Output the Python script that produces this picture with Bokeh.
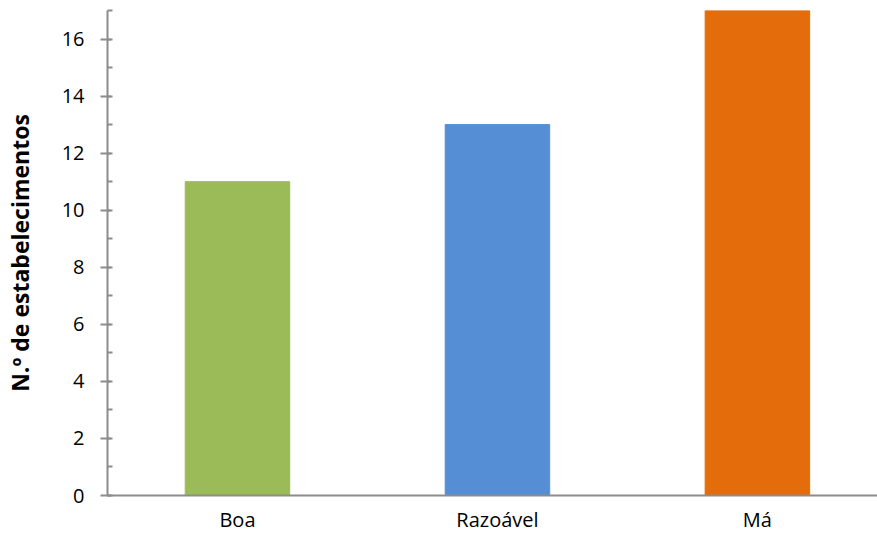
from bokeh.plotting import figure
from bokeh.models import Range1d, FixedTicker, ColumnDataSource
from bokeh.embed import file_html
from bokeh.resources import INLINE

# Establishment counts by condition rating
categories = ["Boa", "Razoável", "Má"]
counts = [11, 13, 17]
colors = ["#9BBB59", "#558ED5", "#E46C0A"]

y_ticks = [0, 2, 4, 6, 8, 10, 12, 14, 16]

positions = [i + 0.5 for i in range(len(categories))]
source = ColumnDataSource(dict(x=positions, top=counts, color=colors, label=categories))

p = figure(
    width=877, height=538,
    x_range=Range1d(0, 2.962), y_range=Range1d(0, 17),
    output_backend="svg", toolbar_location=None,
    min_border_left=104, min_border_right=0, min_border_top=10, min_border_bottom=43,
)
p.vbar(x="x", top="top", width=0.402, bottom=0, color="color", source=source)

p.grid.visible = False
p.outline_line_color = None
p.background_fill_color = "white"
p.border_fill_color = "white"

axis_color = "#8C8C8C"
font = "Open Sans"

xa = p.xaxis[0]
xa.ticker = FixedTicker(ticks=positions)
xa.major_label_overrides = {pos: lab for pos, lab in zip(positions, categories)}
xa.major_tick_out = 0
xa.major_tick_in = 0
xa.minor_tick_out = 0
xa.minor_tick_in = 0
xa.axis_line_color = axis_color
xa.axis_line_width = 2
xa.major_label_text_font = font
xa.major_label_text_font_size = "20px"
xa.major_label_text_color = "black"
xa.major_label_standoff = 10

ya = p.yaxis[0]
ya.ticker = FixedTicker(ticks=y_ticks, minor_ticks=list(range(0, 18)))
ya.axis_line_color = axis_color
ya.axis_line_width = 2
ya.major_tick_line_color = axis_color
ya.major_tick_line_width = 2
ya.major_tick_out = 7
ya.major_tick_in = 3
ya.minor_tick_line_color = axis_color
ya.minor_tick_line_width = 2
ya.minor_tick_out = 0
ya.minor_tick_in = 5
ya.major_label_text_font = font
ya.major_label_text_font_size = "20px"
ya.major_label_text_color = "black"
ya.major_label_standoff = 16
ya.axis_label = "N.º de estabelecimentos"
ya.axis_label_text_font = font
ya.axis_label_text_font_style = "bold"
ya.axis_label_text_font_size = "23px"
ya.axis_label_text_color = "black"
ya.axis_label_standoff = 23

open("out.html", "w").write(file_html(p, INLINE))
